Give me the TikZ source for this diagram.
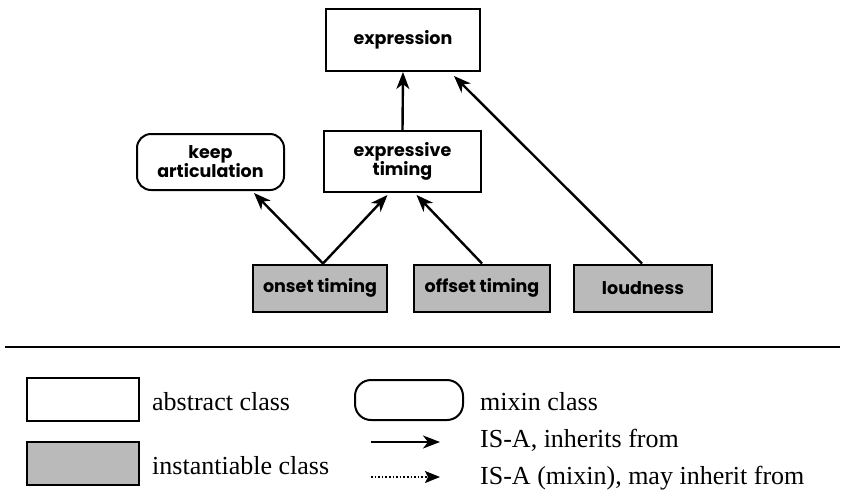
\documentclass[tikz,border=0pt]{standalone}
\usepackage{fontspec}
\setmainfont{Liberation Serif}
\newfontfamily\boxfont{Poppins}
\usetikzlibrary{arrows.meta,calc}
\begin{document}
\begin{tikzpicture}[x=1pt,y=-1pt,
  cls/.style={draw=black,line width=2pt,font=\boxfont\fontsize{17.5}{19}\selectfont\bfseries,align=center,inner sep=0pt},
  abstractcls/.style={cls,fill=white},
  mixincls/.style={cls,fill=white,rounded corners=14pt},
  instcls/.style={cls,fill=black!27},
  isa/.style={line width=2.4pt,-{Stealth[length=17pt,width=13pt,inset=5pt]}},
  isamixin/.style={line width=1.6pt,dotted,-{Stealth[length=15pt,width=12pt,inset=3pt]}},
  legend/.style={anchor=base west,font=\fontsize{26}{29}\selectfont,inner sep=0pt}
]
\useasboundingbox (0,0) rectangle (843,496);

% hierarchy nodes
\node[abstractcls,minimum width=154pt,minimum height=62pt] (expr) at (403,40) {expression};
\node[abstractcls,minimum width=157pt,minimum height=61pt] (exptim) at (402.5,161.5) {expressive\\timing};
\node[mixincls,minimum width=147pt,minimum height=56pt] (keep) at (210.5,162) {keep\\articulation};
\node[instcls,minimum width=134pt,minimum height=47pt] (onset) at (320,288) {onset timing};
\node[instcls,minimum width=136pt,minimum height=47pt] (offset) at (482,288) {offset timing};
\node[instcls,minimum width=138pt,minimum height=47pt] (loud) at (643,288) {loudness};

% connectors
\draw[isa] (exptim.north) -- (expr.south);
\draw[isa] ($(onset.north)+(3,0)$) -- ($(keep.south east)+(-31,2)$);
\draw[isa] ($(onset.north)+(3,0)$) -- ($(exptim.south)+(-15,2)$);
\draw[isa] (offset.north) -- ($(exptim.south)+(14,2)$);
\draw[isa] ($(loud.north)+(-1,0)$) -- ($(expr.south east)+(-27,4)$);

% separator
\coordinate (sepL) at (5,347);
\coordinate (sepR) at (840,347);
\draw[line width=2.2pt] (sepL) -- (sepR);

% legend
\node[abstractcls,minimum width=112pt,minimum height=43pt] (labs) at (83,399.5) {};
\node[legend] (tabs) at (152,410) {abstract class};
\node[instcls,minimum width=112pt,minimum height=43pt] (linst) at (83,463.5) {};
\node[legend] (tinst) at (152,474) {instantiable class};
\node[mixincls,minimum width=108pt,minimum height=40pt,rounded corners=16pt] (lmix) at (409,400) {};
\node[legend] (tmix) at (480,410) {mixin class};
\coordinate (a1s) at (371,442);
\coordinate (a1e) at (440,442);
\draw[isa] (a1s) -- (a1e);
\node[legend] (tisa) at (480,447) {IS-A, inherits from};
\coordinate (a2s) at (371,477);
\coordinate (a2e) at (440,477);
\draw[isamixin] (a2s) -- (a2e);
\node[legend] (tisam) at (480,484) {IS-A (mixin), may inherit from};
\end{tikzpicture}
\end{document}
